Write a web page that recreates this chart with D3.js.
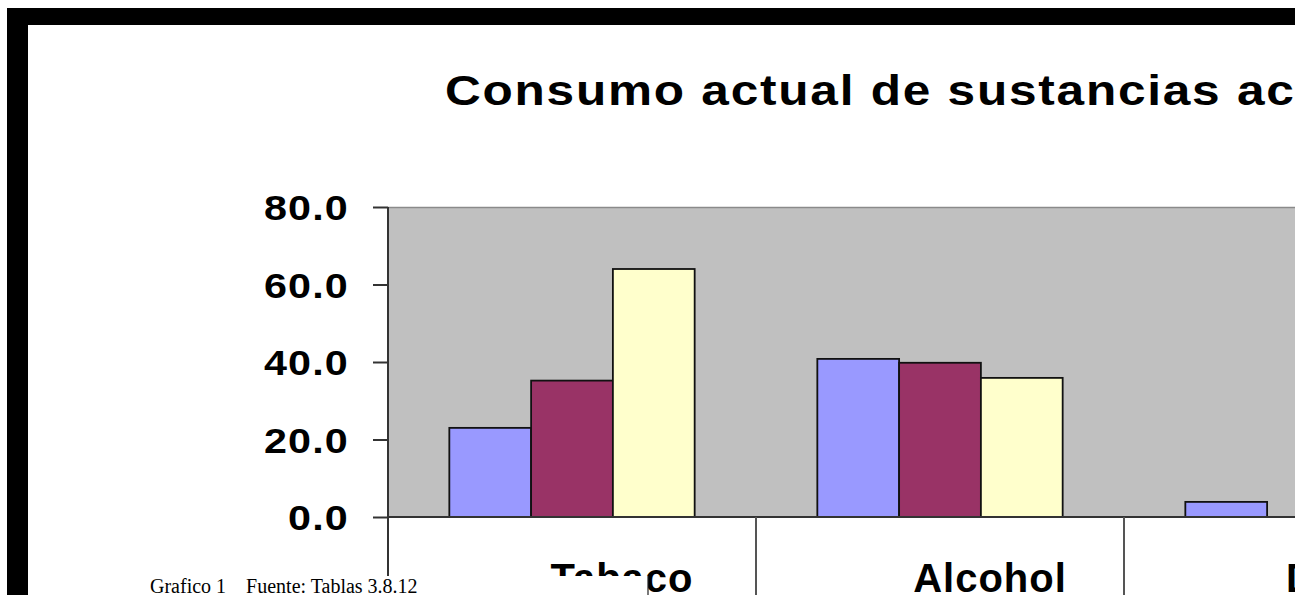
<!DOCTYPE html>
<html>

<head>
    <meta charset="utf-8" />
    <script src="https://d3js.org/d3.v7.min.js"></script>
    <style>
        body { margin: 0; background: #fff; }
        .title { font: bold 42px "Liberation Sans", Arial, sans-serif; letter-spacing: 1.5px; fill: #000; }
        .tick text { font: bold 35px "Liberation Sans", Arial, sans-serif; letter-spacing: 1px; fill: #000; }
        .cat { font: bold 40px "Liberation Sans", Arial, sans-serif; letter-spacing: 1px; fill: #000; }
        .caption { font: 20px "Liberation Serif", "Times New Roman", serif; fill: #000; }
        .bar { stroke: #111; stroke-width: 1.8px; }
    </style>
</head>

<body>
    <svg id="chart" width="1302" height="595"></svg>

    <script>
        // data
        const categories = ["Tabaco", "Alcohol", "Drogas"];
        const series = ["Serie 1", "Serie 2", "Serie 3"];
        const values = [
            [23.0, 35.2, 64.0],   // Tabaco
            [40.8, 39.8, 35.9],   // Alcohol
            [3.9, null, null]     // third group, only first bar visible
        ];
        const colors = ["#9999ff", "#993366", "#ffffcc"];
        const yTicks = [0, 20, 40, 60, 80];

        const svg = d3.select("#chart");

        // black frame (top and left edges of the scanned picture)
        svg.append("rect").attr("x", 7).attr("y", 8).attr("width", 1288).attr("height", 17).attr("fill", "#000");
        svg.append("rect").attr("x", 7).attr("y", 8).attr("width", 21).attr("height", 587).attr("fill", "#000");

        // everything inside is clipped at the right edge
        svg.append("clipPath").attr("id", "clip")
            .append("rect").attr("x", 28).attr("y", 25).attr("width", 1267).attr("height", 570);
        const g = svg.append("g").attr("clip-path", "url(#clip)");

        const plotLeft = 388, plotTop = 207, base = 517, step = 368;
        const sx = 1.18; // the scanned lettering is stretched sideways

        const x = d3.scaleBand().domain(categories).range([plotLeft, plotLeft + step * categories.length]);
        const x1 = d3.scaleBand().domain(series).range([0, x.bandwidth()]).paddingOuter(0.75);
        const y = d3.scaleLinear().domain([0, 80]).range([base, plotTop]);

        g.append("text").attr("class", "title")
            .attr("transform", `translate(445,105) scale(${sx},1)`)
            .text("Consumo actual de sustancias ac");

        // plot area
        g.append("rect")
            .attr("x", plotLeft).attr("y", plotTop)
            .attr("width", 1295 - plotLeft).attr("height", base - plotTop)
            .attr("fill", "#c0c0c0");
        g.append("line")
            .attr("x1", plotLeft).attr("x2", 1295).attr("y1", plotTop + 0.5).attr("y2", plotTop + 0.5)
            .attr("stroke", "#8a8a8a").attr("stroke-width", 1.5);

        // bars
        categories.forEach((c, i) => {
            g.append("g").selectAll("rect")
                .data(series.map((s, j) => ({ s, v: values[i][j], j })).filter(d => d.v != null))
                .enter().append("rect")
                .attr("class", "bar")
                .attr("x", d => x(c) + x1(d.s))
                .attr("y", d => y(d.v))
                .attr("width", x1.bandwidth())
                .attr("height", d => base - y(d.v))
                .attr("fill", d => colors[d.j]);
        });

        // y axis
        const yAxis = g.append("g")
            .attr("transform", `translate(${plotLeft},0)`)
            .call(d3.axisLeft(y).tickValues(yTicks).tickFormat(d3.format(".1f")).tickSize(15).tickPadding(24));
        yAxis.select(".domain").remove();
        yAxis.selectAll(".tick line").attr("stroke", "#333").attr("stroke-width", 2);
        yAxis.selectAll(".tick text")
            .attr("x", -39 / sx)
            .attr("dy", "0.36em")
            .attr("transform", `scale(${sx},1)`);

        g.append("line")
            .attr("x1", plotLeft).attr("x2", plotLeft).attr("y1", plotTop).attr("y2", 595)
            .attr("stroke", "#333").attr("stroke-width", 2);

        // baseline and category dividers
        g.append("line")
            .attr("x1", plotLeft).attr("x2", 1295).attr("y1", base).attr("y2", base)
            .attr("stroke", "#333").attr("stroke-width", 2);
        g.append("g").selectAll("line")
            .data(categories.slice(1))
            .enter().append("line")
            .attr("x1", d => x(d)).attr("x2", d => x(d))
            .attr("y1", base).attr("y2", 595)
            .attr("stroke", "#555").attr("stroke-width", 2);

        g.append("g").selectAll("text")
            .data(categories)
            .enter().append("text")
            .attr("class", "cat")
            .attr("x", d => x(d) + x.bandwidth() / 2 + 50)
            .attr("y", 592)
            .attr("text-anchor", "middle")
            .text(d => d);

        // pasted caption box at the bottom
        g.append("rect")
            .attr("x", 130).attr("y", 576).attr("width", 518).attr("height", 20)
            .attr("fill", "#fff");
        g.append("line")
            .attr("x1", 648).attr("x2", 648).attr("y1", 576).attr("y2", 595)
            .attr("stroke", "#222").attr("stroke-width", 1.2);
        g.append("text").attr("class", "caption")
            .attr("x", 150).attr("y", 593)
            .attr("xml:space", "preserve")
            .text("Grafico 1    Fuente: Tablas 3.8.12");
    </script>
</body>

</html>
